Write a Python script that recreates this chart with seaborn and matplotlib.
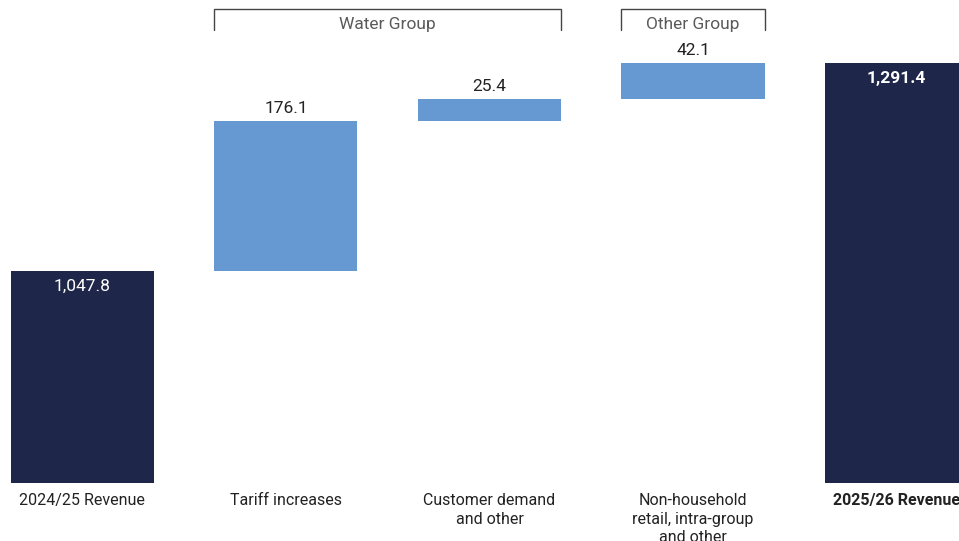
import matplotlib
matplotlib.use("Agg")
import matplotlib.pyplot as plt
import seaborn as sns
import numpy as np

categories = ["2024/25 Revenue", "Tariff increases", "Customer demand\nand other",
              "Non-household\nretail, intra-group\nand other", "2025/26 Revenue"]
values = [1047.8, 176.1, 25.4, 42.1, 1291.4]
kinds = ["total", "delta", "delta", "delta", "total"]
value_labels = ["1,047.8", "176.1", "25.4", "42.1", "1,291.4"]
groups = [("Water Group", 1, 2), ("Other Group", 3, 3)]

NAVY = "#1e2749"
BLUE = "#6699d2"
TEXT = "#222222"
GREY = "#5a5a5a"

sns.set_theme(style="white")
plt.rcParams["font.family"] = ["Roboto", "DejaVu Sans"]

fig = plt.figure(figsize=(9.59, 5.41), dpi=100)
ax = fig.add_axes([0, 0.1072, 1, 0.8928])

base = 800.0
width = 0.703
x = np.arange(len(categories))
bottoms, heights, colors = [], [], []
running = 0.0
for v, k in zip(values, kinds):
    if k == "total":
        bottoms.append(base)
        heights.append(v - base)
        colors.append(NAVY)
        running = v
    else:
        bottoms.append(running)
        heights.append(v)
        colors.append(BLUE)
        running += v

ax.bar(x, heights, width=width, bottom=bottoms, color=colors, linewidth=0)

for i, (lab, k) in enumerate(zip(value_labels, kinds)):
    top = bottoms[i] + heights[i]
    if k == "total":
        bold = (i == len(values) - 1)
        ax.annotate(lab, (x[i], top), xytext=(0, -15), textcoords="offset pixels",
                    ha="center", va="center", color="white", fontsize=12.5,
                    fontweight="bold" if bold else "normal")
    else:
        ax.annotate(lab, (x[i], top), xytext=(0, 13), textcoords="offset pixels",
                    ha="center", va="center", color=TEXT, fontsize=12.5, fontweight="normal")

trans = ax.get_xaxis_transform()
for name, a, b in groups:
    x0 = a - width / 2
    x1 = b + width / 2
    ax.plot([x0, x0, x1, x1], [0.938, 0.9814, 0.9814, 0.938], transform=trans,
            color="#444444", lw=1.0, clip_on=False, solid_joinstyle="miter")
    ax.text((x0 + x1) / 2, 0.950, name, transform=trans, ha="center", va="center",
            color=GREY, fontsize=12.5, fontweight="normal")

ax.set_xlim(-0.405, 4.307)
ax.set_ylim(base, base + 483 * 1.171)
ax.set_xticks(x)
ax.set_xticklabels(categories, fontsize=11.5, color=TEXT, linespacing=1.27)
for t in ax.get_xticklabels():
    t.set_verticalalignment("top")
ax.get_xticklabels()[-1].set_fontweight("bold")
ax.tick_params(axis="x", length=0, pad=7.5)
ax.set_yticks([])
for s in ax.spines.values():
    s.set_visible(False)

fig.savefig("out.png", dpi=100)
